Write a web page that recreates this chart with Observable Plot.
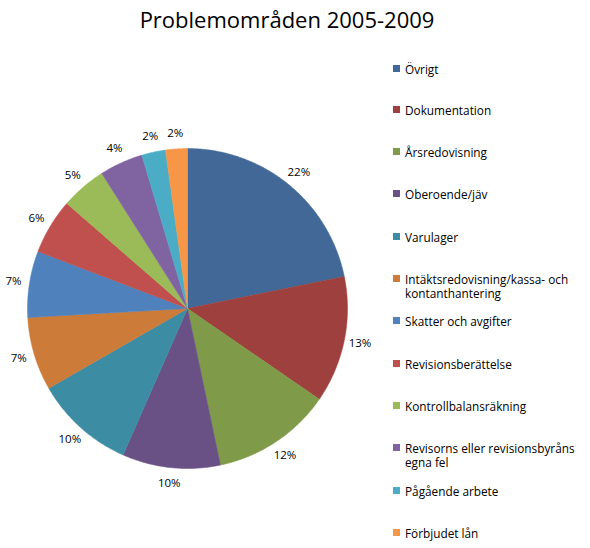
<!DOCTYPE html>
<html>
<head>
<meta charset="utf-8">
<script src="https://cdn.jsdelivr.net/npm/d3@7"></script>
<script src="https://cdn.jsdelivr.net/npm/@observablehq/plot@0.6"></script>
<style>
  html, body { margin: 0; padding: 0; background: #fff; }
  #wrap { position: relative; width: 590px; height: 548px; font-family: "Open Sans", sans-serif; }
  #title { position: absolute; left: 0; width: 574px; top: 4px; text-align: center; font-size: 22px; color: #000; }
  #chart { position: absolute; left: 0; top: 0; }
  .lg { position: absolute; left: 393px; font-size: 11.8px; color: #000; width: 194px; line-height: 14px; }
  .sw { position: absolute; left: 0; top: 3px; width: 7px; height: 7px; }
  .lt { margin-left: 12px; }
</style>
</head>
<body>
<div id="wrap">
  <div id="chart"></div>
  <div id="title">Problemområden 2005-2009</div>
  <div id="legend"></div>
</div>
<script>
const categories = ["Övrigt", "Dokumentation", "Årsredovisning", "Oberoende/jäv", "Varulager",
  "Intäktsredovisning/kassa- och kontanthantering", "Skatter och avgifter", "Revisionsberättelse",
  "Kontrollbalansräkning", "Revisorns eller revisionsbyråns egna fel", "Pågående arbete", "Förbjudet lån"];
const shares = [21.8, 12.8, 12.1, 9.9, 10.1, 7.4, 6.7, 5.6, 4.6, 4.4, 2.4, 2.2];
const colors = ["#416897", "#9e403d", "#7f9a48", "#695185", "#3c8da3", "#cc7b38",
  "#4f81bd", "#c0504d", "#9bbb59", "#8064a2", "#4bacc6", "#f79646"];

const total = d3.sum(shares);
const slices = [];
const labels = [];
let acc = 0;
categories.forEach((name, i) => {
  const a0 = acc / total * 2 * Math.PI;
  acc += shares[i];
  const a1 = acc / total * 2 * Math.PI;
  const n = Math.max(2, Math.ceil((a1 - a0) / 0.01));
  slices.push({name, x: 0, y: 0, k: 0});
  for (let j = 0; j <= n; j++) {
    const a = a0 + (a1 - a0) * j / n;
    slices.push({name, x: Math.sin(a), y: Math.cos(a), k: j + 1});
  }
  slices.push({name, x: 0, y: 0, k: n + 2});
  const am = (a0 + a1) / 2;
  labels.push({name, x: 1.1 * Math.sin(am), y: 1.1 * Math.cos(am), text: Math.round(shares[i]) + "%"});
});

const chart = Plot.plot({
  width: 590,
  height: 548,
  margin: 0,
  style: {background: "transparent", overflow: "visible"},
  x: {domain: [-1, 1], range: [27, 347], axis: null},
  y: {domain: [-1, 1], range: [468, 148], axis: null},
  color: {domain: categories, range: colors},
  marks: [
    Plot.line(slices, {x: "x", y: "y", z: "name", fill: "name", stroke: "name", strokeWidth: 0.5, curve: "linear"}),
    Plot.text(labels, {x: "x", y: "y", text: "text", fontSize: 11.5, fill: "#000", fontFamily: "Open Sans"})
  ]
});
document.getElementById("chart").appendChild(chart);

const legendTops = [62, 103, 145, 187, 230, 272, 314, 357, 399, 441, 484, 526];
const legend = document.getElementById("legend");
categories.forEach((name, i) => {
  const d = document.createElement("div");
  d.className = "lg";
  d.style.top = legendTops[i] + "px";
  d.innerHTML = `<span class="sw" style="background:${colors[i]}"></span><div class="lt"></div>`;
  d.querySelector(".lt").textContent = name;
  legend.appendChild(d);
});
</script>
</body>
</html>
